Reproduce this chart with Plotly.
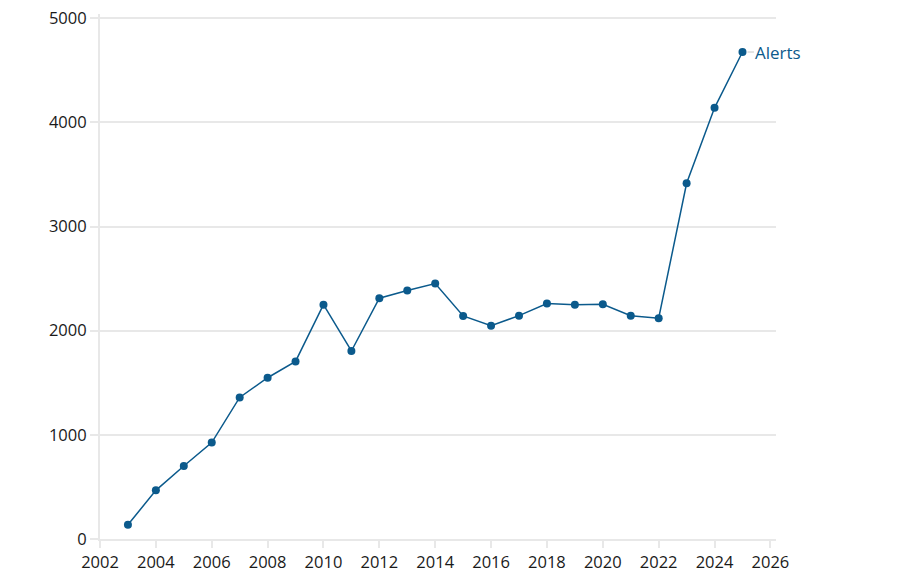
import plotly.graph_objects as go

years = list(range(2003, 2026))
alerts = [137, 467, 701, 926, 1359, 1548, 1705, 2250, 1805, 2312, 2385, 2452,
          2141, 2048, 2144, 2260, 2250, 2254, 2144, 2119, 3415, 4139, 4675]
series_name = "Alerts"
x_ticks = list(range(2002, 2027, 2))
y_ticks = [0, 1000, 2000, 3000, 4000, 5000]

color = "#0b5a8c"
grid = "#e8e8e8"

fig = go.Figure()
fig.add_trace(go.Scatter(
    x=years, y=alerts, mode="lines+markers", name=series_name,
    line=dict(color=color, width=1.5),
    marker=dict(color=color, size=8),
    showlegend=False,
))
fig.add_annotation(
    x=years[-1], y=alerts[-1], text=series_name, showarrow=True,
    ax=36, ay=0, arrowhead=0, arrowwidth=1, arrowcolor="#c8c8c8", standoff=5,
    font=dict(color=color, size=17, family="Open Sans"),
)
fig.update_layout(
    width=922, height=573,
    margin=dict(l=92, r=154, t=6, b=42, autoexpand=False),
    plot_bgcolor="white", paper_bgcolor="white",
    font=dict(family="Open Sans", size=16.5, color="#1a1a1a"),
    xaxis=dict(range=[2002, 2026.2], tickvals=x_ticks, showgrid=False,
               showline=True, linecolor=grid, linewidth=2,
               ticks="outside", tickcolor=grid, ticklen=7, tickwidth=2,
               zeroline=False, automargin=False, ticklabeloverflow="allow"),
    yaxis=dict(range=[0, 5040], tickvals=y_ticks, showgrid=True, gridcolor=grid,
               gridwidth=1.5, showline=True, linecolor=grid, linewidth=2,
               ticks="outside", tickcolor=grid, ticklen=8, tickwidth=2,
               zeroline=False, automargin=False, ticklabeloverflow="allow"),
)
fig.write_html("out.html")
